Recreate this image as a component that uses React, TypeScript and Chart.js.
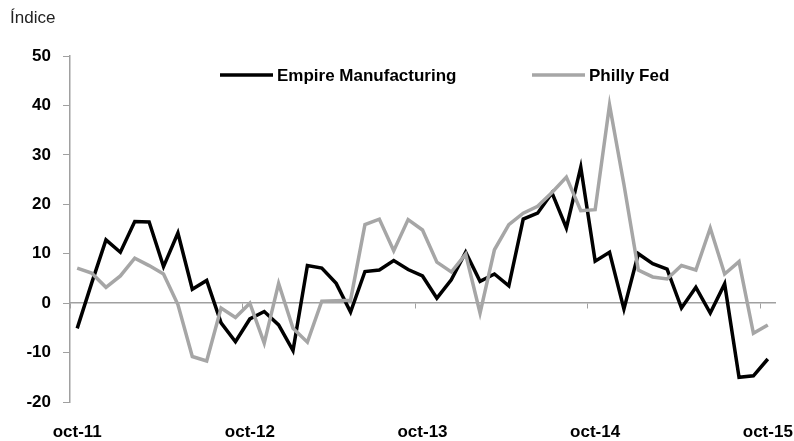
import React, { useEffect, useRef } from "react";
import { Chart, registerables } from "chart.js";

Chart.register(...registerables);

const monthNames = ["oct", "nov", "dic", "ene", "feb", "mar", "abr", "may", "jun", "jul", "ago", "sep"];
const startYear = 11;
const monthCount = 49;
const categories: string[] = Array.from({ length: monthCount }, (_, i) => {
  const m = i % 12;
  const yr = startYear + Math.floor((i + 9) / 12);
  return `${monthNames[m]}-${yr}`;
});

const empireValues = [
  -5.1, 4.0, 12.8, 10.3, 16.5, 16.4, 7.4, 14.2, 2.8, 4.6, -4.0, -7.8,
  -3.2, -1.7, -4.4, -9.6, 7.6, 7.1, 4.0, -1.8, 6.4, 6.7, 8.6, 6.8,
  5.5, 1.0, 4.7, 10.3, 4.4, 5.9, 3.5, 17.0, 18.2, 22.3, 15.2, 27.5,
  8.5, 10.3, -1.2, 10.0, 8.0, 6.9, -1.0, 3.2, -2.0, 3.9, -15.0, -14.7,
  -11.3,
];

const phillyValues = [
  7.1, 6.1, 3.2, 5.5, 9.1, 7.6, 5.9, -0.3, -10.8, -11.7, -1.0, -2.9,
  0.0, -8.1, 4.0, -5.1, -7.9, 0.4, 0.5, 0.6, 15.9, 17.0, 10.6, 16.9,
  14.8, 8.3, 6.3, 9.9, -2.0, 10.8, 15.9, 18.2, 19.6, 22.4, 25.5, 18.7,
  18.9, 40.1, 24.0, 6.7, 5.3, 4.9, 7.6, 6.7, 15.2, 5.9, 8.4, -6.1,
  -4.4,
];

const yTicks = [-20, -10, 0, 10, 20, 30, 40, 50];
const seriesNames = ["Empire Manufacturing", "Philly Fed"];
const yAxisTitle = "Índice";

const FONT = "'Liberation Sans', Arial, sans-serif";
const AXIS_GRAY = "#A0A0A0";
const SERIES_GRAY = "#A6A6A6";

const overlayPlugin = {
  id: "overlay",
  afterDraw(chart: any) {
    const ctx = chart.ctx;
    ctx.save();
    ctx.fillStyle = "#222";
    ctx.font = `17px ${FONT}`;
    ctx.textAlign = "left";
    ctx.textBaseline = "alphabetic";
    ctx.fillText(yAxisTitle, 10, 23);
    const items = [
      { x: 220, name: seriesNames[0], color: chart.data.datasets[0].borderColor },
      { x: 532, name: seriesNames[1], color: chart.data.datasets[1].borderColor },
    ];
    const ly = 75;
    ctx.font = `bold 17px ${FONT}`;
    ctx.textBaseline = "middle";
    items.forEach((it) => {
      ctx.strokeStyle = it.color;
      ctx.lineWidth = 3.5;
      ctx.beginPath();
      ctx.moveTo(it.x, ly);
      ctx.lineTo(it.x + 53, ly);
      ctx.stroke();
      ctx.fillStyle = "#000";
      ctx.fillText(it.name, it.x + 57, ly + 1);
    });
    ctx.restore();
  },
};

export default function App() {
  const canvasRef = useRef<HTMLCanvasElement | null>(null);

  useEffect(() => {
    if (!canvasRef.current) return;
    const chart = new Chart(canvasRef.current, {
      type: "line",
      data: {
        labels: categories,
        datasets: [
          {
            label: seriesNames[0],
            data: empireValues,
            borderColor: "#000000",
            backgroundColor: "#000000",
            borderWidth: 3.5,
            pointRadius: 0,
            tension: 0,
            order: 1,
            xAxisID: "x",
          },
          {
            label: seriesNames[1],
            data: phillyValues,
            borderColor: SERIES_GRAY,
            backgroundColor: SERIES_GRAY,
            borderWidth: 3.5,
            pointRadius: 0,
            tension: 0,
            order: 0,
            xAxisID: "x",
          },
        ],
      },
      options: {
        animation: false,
        responsive: true,
        maintainAspectRatio: false,
        layout: { padding: { top: 56, right: 19, left: 0, bottom: 0 } },
        plugins: {
          legend: { display: false },
          tooltip: { enabled: false },
          title: { display: false },
        },
        scales: {
          x: {
            type: "category",
            position: { y: 0 } as any,
            offset: true,
            grid: {
              offset: true,
              drawOnChartArea: false,
              drawTicks: true,
              tickLength: 5,
              tickColor: (c: any) => (c.index % 12 === 0 && c.index < monthCount ? AXIS_GRAY : "rgba(0,0,0,0)"),
            },
            border: { display: true, color: AXIS_GRAY, width: 1.5 },
            ticks: { display: false, autoSkip: false },
          },
          x2: {
            type: "category",
            position: "bottom",
            offset: true,
            grid: { display: false, offset: true },
            border: { display: false },
            ticks: {
              autoSkip: false,
              maxRotation: 0,
              minRotation: 0,
              padding: 12,
              color: "#000",
              font: { family: FONT, size: 17, weight: "bold" },
              callback: (_v: any, idx: number) => (idx % 12 === 0 ? categories[idx] : ""),
            },
            afterFit: (s: any) => {
              s.height = 39;
              s.paddingLeft = 0;
              s.paddingRight = 0;
            },
          },
          y: {
            type: "linear",
            min: yTicks[0],
            max: yTicks[yTicks.length - 1],
            afterBuildTicks: (s: any) => {
              s.ticks = yTicks.map((v) => ({ value: v }));
            },
            grid: {
              drawOnChartArea: false,
              drawTicks: true,
              tickLength: 7,
              tickColor: AXIS_GRAY,
            },
            border: { display: true, color: AXIS_GRAY, width: 1.5 },
            ticks: {
              padding: 12,
              color: "#000",
              font: { family: FONT, size: 17, weight: "bold" },
            },
            afterFit: (s: any) => {
              s.width = 70;
              s.paddingTop = 0;
              s.paddingBottom = 0;
            },
          },
        },
      },
      plugins: [overlayPlugin],
    });
    return () => chart.destroy();
  }, []);

  return (
    <div style={{ position: "fixed", left: 0, top: 0, width: 794, height: 441, background: "#fff" }}>
      <canvas ref={canvasRef} />
    </div>
  );
}
